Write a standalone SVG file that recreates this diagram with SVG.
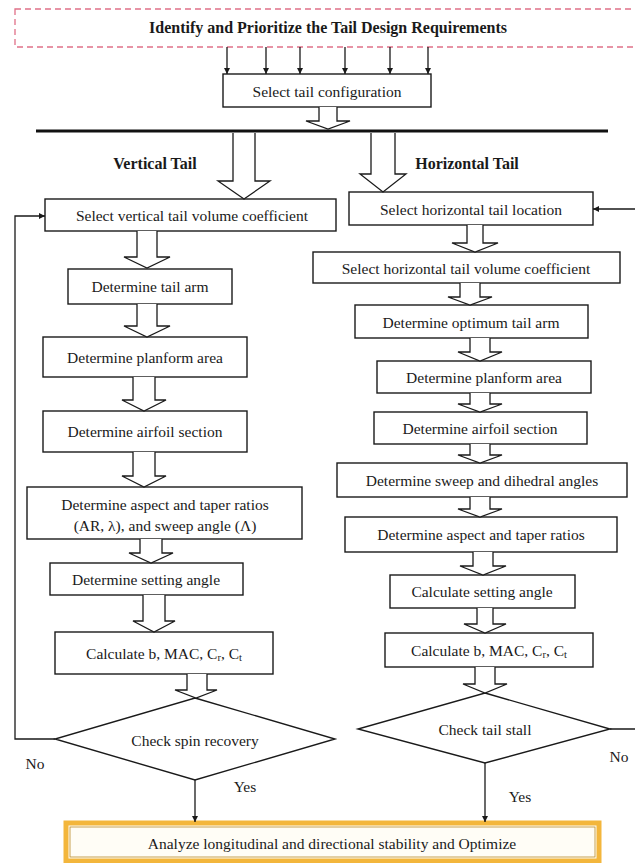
<svg xmlns="http://www.w3.org/2000/svg" width="635" height="863" viewBox="0 0 635 863">
  <style>
    .box { fill: #ffffff; stroke: #1a1a1a; stroke-width: 1.4; }
    .dia { fill: #ffffff; stroke: #1a1a1a; stroke-width: 1.4; }
    .hol { fill: #ffffff; stroke: #1a1a1a; stroke-width: 1.3; stroke-linejoin: miter; }
    .ln { fill: none; stroke: #1a1a1a; stroke-width: 1.3; }
    .t { font-family: "Liberation Serif", "Times New Roman", serif; font-size: 15.5px; fill: #1a1a1a; text-anchor: middle; dominant-baseline: central; }
    .b { font-weight: bold; font-size: 16px; }
    .sub { font-size: 10.5px; }
  </style>
  <defs>
    <marker id="ah" viewBox="0 0 8 8" refX="8" refY="4" markerWidth="6" markerHeight="6" orient="auto" markerUnits="userSpaceOnUse">
      <path d="M0,0 L8,4 L0,8 Z" fill="#1a1a1a"/>
    </marker>
  </defs>
  <rect width="635" height="863" fill="#ffffff"/>

  <!-- requirements banner -->
  <g id="requirements">
    <rect x="15" y="9" width="640" height="38" fill="#ffffff" stroke="#e07088" stroke-width="1.3" stroke-dasharray="6 4"/>
    <text class="t b" x="328" y="27">Identify and Prioritize the Tail Design Requirements</text>
  </g>

  <g id="config">
    <rect class="box" x="223" y="74" width="208" height="33"/>
    <text class="t" x="327" y="91">Select tail configuration</text>
  </g>

  <!-- split bar -->
  <g id="split-bar">
    <line x1="36" y1="131" x2="608" y2="131" stroke="#111" stroke-width="3.2"/>
  </g>

  <g id="vt-label"><text class="t b" x="155" y="163">Vertical Tail</text></g>
  <g id="ht-label"><text class="t b" x="467" y="163">Horizontal Tail</text></g>

  <!-- vertical tail column -->
  <g id="vt-volume">
    <rect class="box" x="45" y="199" width="291" height="32"/>
    <text class="t" x="192" y="215">Select vertical tail volume coefficient</text>
  </g>
  <g id="vt-arm">
    <rect class="box" x="68" y="269" width="164" height="35"/>
    <text class="t" x="150" y="286">Determine tail arm</text>
  </g>
  <g id="vt-planform">
    <rect class="box" x="43" y="337" width="204" height="40"/>
    <text class="t" x="145" y="357">Determine planform area</text>
  </g>
  <g id="vt-airfoil">
    <rect class="box" x="43" y="411" width="204" height="41"/>
    <text class="t" x="145" y="431">Determine airfoil section</text>
  </g>
  <g id="vt-aspect">
    <rect class="box" x="27" y="487" width="275" height="52"/>
    <text class="t" x="165" y="504">Determine aspect and taper ratios</text>
    <text class="t" x="165" y="525">(AR, λ), and sweep angle (Λ)</text>
  </g>
  <g id="vt-setting">
    <rect class="box" x="50" y="563" width="193" height="32"/>
    <text class="t" x="146" y="579">Determine setting angle</text>
  </g>
  <g id="vt-calc">
    <rect class="box" x="55" y="632" width="218" height="42"/>
    <text class="t" x="164" y="653">Calculate b, MAC, C<tspan class="sub" dy="4">r</tspan><tspan dy="-4">, C</tspan><tspan class="sub" dy="4">t</tspan></text>
  </g>
  <g id="vt-spin">
    <polygon class="dia" points="195,698 335,739 195,780 55,739"/>
    <text class="t" x="195" y="740">Check spin recovery</text>
  </g>

  <!-- horizontal tail column -->
  <g id="ht-location">
    <rect class="box" x="349" y="192" width="244" height="33"/>
    <text class="t" x="471" y="209">Select horizontal tail location</text>
  </g>
  <g id="ht-volume">
    <rect class="box" x="313" y="252" width="307" height="31"/>
    <text class="t" x="466" y="268">Select horizontal tail volume coefficient</text>
  </g>
  <g id="ht-arm">
    <rect class="box" x="355" y="305" width="233" height="33"/>
    <text class="t" x="471" y="322">Determine optimum tail arm</text>
  </g>
  <g id="ht-planform">
    <rect class="box" x="377" y="361" width="214" height="32"/>
    <text class="t" x="484" y="377">Determine planform area</text>
  </g>
  <g id="ht-airfoil">
    <rect class="box" x="374" y="412" width="213" height="32"/>
    <text class="t" x="480" y="428">Determine airfoil section</text>
  </g>
  <g id="ht-sweep">
    <rect class="box" x="337" y="463" width="290" height="34"/>
    <text class="t" x="482" y="480">Determine sweep and dihedral angles</text>
  </g>
  <g id="ht-aspect">
    <rect class="box" x="345" y="517" width="272" height="35"/>
    <text class="t" x="481" y="534">Determine aspect and taper ratios</text>
  </g>
  <g id="ht-setting">
    <rect class="box" x="390" y="575" width="185" height="33"/>
    <text class="t" x="482" y="591">Calculate setting angle</text>
  </g>
  <g id="ht-calc">
    <rect class="box" x="385" y="633" width="208" height="34"/>
    <text class="t" x="489" y="650">Calculate b, MAC, C<tspan class="sub" dy="4">r</tspan><tspan dy="-4">, C</tspan><tspan class="sub" dy="4">t</tspan></text>
  </g>
  <g id="ht-stall">
    <polygon class="dia" points="485,693 610,729 485,763 358,729"/>
    <text class="t" x="485" y="729">Check tail stall</text>
  </g>

  <!-- final step -->
  <g id="optimize">
    <rect x="66" y="823" width="533" height="38" fill="#fffdf6" stroke="#f3b63c" stroke-width="5"/>
    <rect x="70" y="827" width="525" height="30" fill="none" stroke="#b98a2a" stroke-width="0.8"/>
    <text class="t" x="332" y="843">Analyze longitudinal and directional stability and Optimize</text>
  </g>

  <!-- connectors -->
  <g id="connectors">
    <!-- requirement feeds -->
    <line class="ln" x1="227" y1="47" x2="227" y2="74" marker-end="url(#ah)"/>
    <line class="ln" x1="266" y1="47" x2="266" y2="74" marker-end="url(#ah)"/>
    <line class="ln" x1="300" y1="47" x2="300" y2="74" marker-end="url(#ah)"/>
    <line class="ln" x1="345" y1="47" x2="345" y2="74" marker-end="url(#ah)"/>
    <line class="ln" x1="390" y1="47" x2="390" y2="74" marker-end="url(#ah)"/>
    <line class="ln" x1="428" y1="47" x2="428" y2="74" marker-end="url(#ah)"/>

    <!-- block arrows -->
    <path class="hol" d="M319,107 V121 H306 L328,129 L350,121 H337 V107"/>
    <path class="hol" d="M233,133 V181 H218 L244,199 L270,181 H255 V133"/>
    <path class="hol" d="M371,133 V174 H360 L383,192 L406,174 H395 V133"/>

    <path class="hol" d="M137,231 V257 H124 L147,268 L170,257 H157 V231"/>
    <path class="hol" d="M137,304 V326 H124 L147,337 L170,326 H157 V304"/>
    <path class="hol" d="M133,377 V400 H122 L144,411 L166,400 H155 V377"/>
    <path class="hol" d="M133,452 V476 H122 L144,487 L166,476 H155 V452"/>
    <path class="hol" d="M140,539 V553 H129 L151,563 L173,553 H162 V539"/>
    <path class="hol" d="M143,595 V621 H133 L154,632 L175,621 H165 V595"/>
    <path class="hol" d="M187,674 V690 H175 L196,698 L217,690 H207 V674"/>

    <path class="hol" d="M467,225 V243 H452 L475,252 L498,243 H483 V225"/>
    <path class="hol" d="M460,283 V297 H448 L470,305 L492,297 H480 V283"/>
    <path class="hol" d="M470,338 V352 H458 L480,361 L502,352 H490 V338"/>
    <path class="hol" d="M470,393 V404 H458 L480,412 L502,404 H490 V393"/>
    <path class="hol" d="M470,444 V455 H458 L480,463 L502,455 H490 V444"/>
    <path class="hol" d="M470,497 V509 H458 L480,517 L502,509 H490 V497"/>
    <path class="hol" d="M473,552 V566 H460 L483,575 L506,566 H493 V552"/>
    <path class="hol" d="M477,608 V624 H464 L485,633 L506,624 H493 V608"/>
    <path class="hol" d="M475,667 V684 H463 L485,693 L507,684 H495 V667"/>

    <!-- spin recovery loop -->
    <path class="ln" d="M55,739 H15 V216 H45" marker-end="url(#ah)"/>
    <text class="t" x="35" y="763">No</text>
    <line class="ln" x1="195" y1="780" x2="195" y2="822" marker-end="url(#ah)"/>
    <text class="t" x="245" y="786">Yes</text>

    <!-- tail stall loop -->
    <path class="ln" d="M610,729 H640 V209 H593" marker-end="url(#ah)"/>
    <text class="t" x="619" y="756">No</text>
    <line class="ln" x1="485" y1="763" x2="485" y2="822" marker-end="url(#ah)"/>
    <text class="t" x="520" y="796">Yes</text>
  </g>
</svg>
